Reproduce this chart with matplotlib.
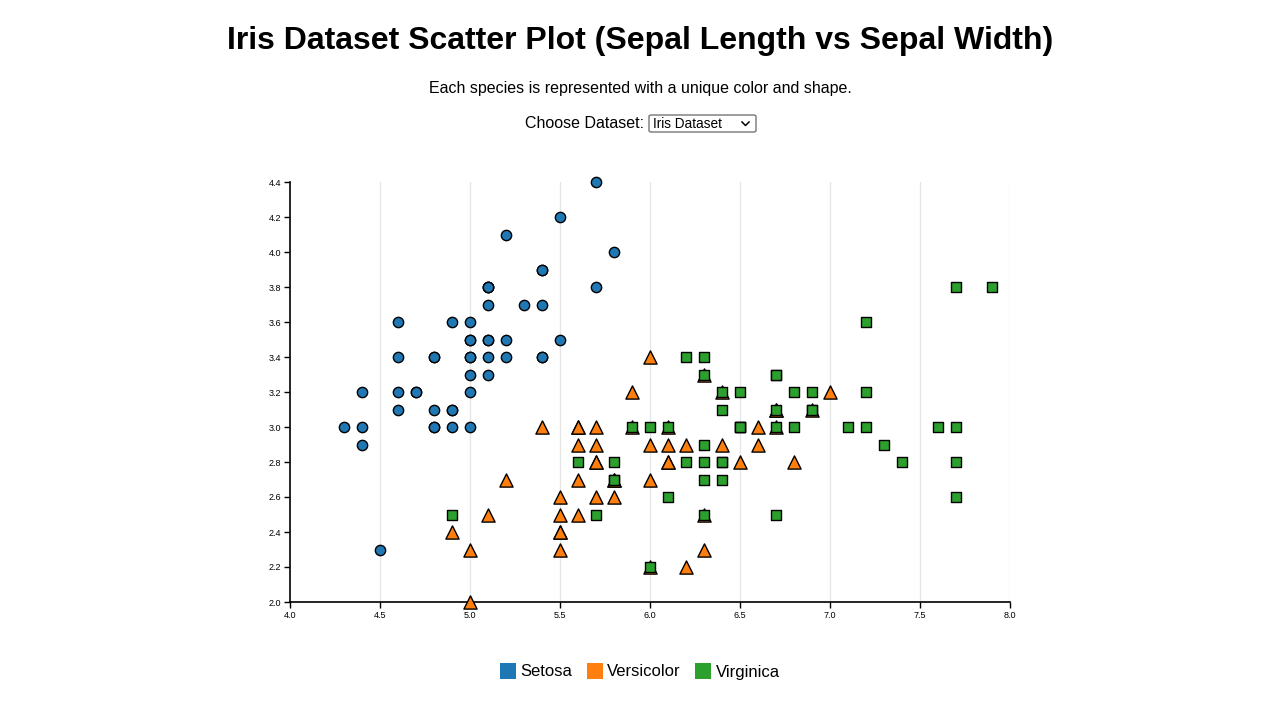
import matplotlib.pyplot as plt
from matplotlib.lines import Line2D
from matplotlib.patches import FancyBboxPatch

plt.rcParams['font.family'] = ['Liberation Sans', 'DejaVu Sans']

# sepal length / sepal width per species
setosa_x = [5.1, 4.9, 4.7, 4.6, 5.0, 5.4, 4.6, 5.0, 4.4, 4.9, 5.4, 4.8, 4.8, 4.3, 5.8, 5.7, 5.4, 5.1, 5.7, 5.1,
            5.4, 5.1, 4.6, 5.1, 4.8, 5.0, 5.0, 5.2, 5.2, 4.7, 4.8, 5.4, 5.2, 5.5, 4.9, 5.0, 5.5, 4.9, 4.4, 5.1,
            5.0, 4.5, 4.4, 5.0, 5.1, 4.8, 5.1, 4.6, 5.3, 5.0]
setosa_y = [3.5, 3.0, 3.2, 3.1, 3.6, 3.9, 3.4, 3.4, 2.9, 3.1, 3.7, 3.4, 3.0, 3.0, 4.0, 4.4, 3.9, 3.5, 3.8, 3.8,
            3.4, 3.7, 3.6, 3.3, 3.4, 3.0, 3.4, 3.5, 3.4, 3.2, 3.1, 3.4, 4.1, 4.2, 3.1, 3.2, 3.5, 3.6, 3.0, 3.4,
            3.5, 2.3, 3.2, 3.5, 3.8, 3.0, 3.8, 3.2, 3.7, 3.3]

versicolor_x = [7.0, 6.4, 6.9, 5.5, 6.5, 5.7, 6.3, 4.9, 6.6, 5.2, 5.0, 5.9, 6.0, 6.1, 5.6, 6.7, 5.6, 5.8, 6.2, 5.6,
                5.9, 6.1, 6.3, 6.1, 6.4, 6.6, 6.8, 6.7, 6.0, 5.7, 5.5, 5.5, 5.8, 6.0, 5.4, 6.0, 6.7, 6.3, 5.6, 5.5,
                5.5, 6.1, 5.8, 5.0, 5.6, 5.7, 5.7, 6.2, 5.1, 5.7]
versicolor_y = [3.2, 3.2, 3.1, 2.3, 2.8, 2.8, 3.3, 2.4, 2.9, 2.7, 2.0, 3.0, 2.2, 2.9, 2.9, 3.1, 3.0, 2.7, 2.2, 2.5,
                3.2, 2.8, 2.5, 2.8, 2.9, 3.0, 2.8, 3.0, 2.9, 2.6, 2.4, 2.4, 2.7, 2.7, 3.0, 3.4, 3.1, 2.3, 3.0, 2.5,
                2.6, 3.0, 2.6, 2.3, 2.7, 3.0, 2.9, 2.9, 2.5, 2.8]

virginica_x = [6.3, 5.8, 7.1, 6.3, 6.5, 7.6, 4.9, 7.3, 6.7, 7.2, 6.5, 6.4, 6.8, 5.7, 5.8, 6.4, 6.5, 7.7, 7.7, 6.0,
               6.9, 5.6, 7.7, 6.3, 6.7, 7.2, 6.2, 6.1, 6.4, 7.2, 7.4, 7.9, 6.4, 6.3, 6.1, 7.7, 6.3, 6.4, 6.0, 6.9,
               6.7, 6.9, 5.8, 6.8, 6.7, 6.7, 6.3, 6.5, 6.2, 5.9]
virginica_y = [3.3, 2.7, 3.0, 2.9, 3.0, 3.0, 2.5, 2.9, 2.5, 3.6, 3.2, 2.7, 3.0, 2.5, 2.8, 3.2, 3.0, 3.8, 2.6, 2.2,
               3.2, 2.8, 2.8, 2.7, 3.3, 3.2, 2.8, 3.0, 2.8, 3.0, 2.8, 3.8, 2.8, 2.8, 2.6, 3.0, 3.4, 3.1, 3.0, 3.1,
               3.1, 3.1, 2.7, 3.2, 3.3, 3.0, 2.5, 3.0, 3.4, 3.0]

species = ['Setosa', 'Versicolor', 'Virginica']
colors = ['#1f77b4', '#ff7f0e', '#2ca02c']
x_ticks = [4.0, 4.5, 5.0, 5.5, 6.0, 6.5, 7.0, 7.5, 8.0]
y_ticks = [2.0, 2.2, 2.4, 2.6, 2.8, 3.0, 3.2, 3.4, 3.6, 3.8, 4.0, 4.2, 4.4]

fig = plt.figure(figsize=(12.8, 7.16), dpi=100)
ax = fig.add_axes([290 / 1280, 1 - 602 / 716, 720 / 1280, 420 / 716])

ax.scatter(setosa_x, setosa_y, s=55, marker='o', c=colors[0], edgecolors='black', linewidths=1, zorder=3, clip_on=False)
ax.scatter(versicolor_x, versicolor_y, s=90, marker='^', c=colors[1], edgecolors='black', linewidths=1, zorder=3, clip_on=False)
ax.scatter(virginica_x, virginica_y, s=50, marker='s', c=colors[2], edgecolors='black', linewidths=1, zorder=3, clip_on=False)

ax.set_xlim(4.0, 8.0)
ax.set_ylim(2.0, 4.4)
ax.set_xticks(x_ticks)
ax.set_yticks(y_ticks)
ax.set_xticklabels(['%.1f' % v for v in x_ticks])
ax.set_yticklabels(['%.1f' % v for v in y_ticks])
ax.tick_params(labelsize=6.5, length=4.5, width=1, color='black', pad=2)
for v in x_ticks[1:]:
    ax.axvline(v, color='#e6e6e6', lw=1, zorder=1)
for side in ['top', 'right']:
    ax.spines[side].set_visible(False)
for side in ['left', 'bottom']:
    ax.spines[side].set_linewidth(1.2)
    ax.spines[side].set_zorder(2)

fig.text(0.5, 1 - 41 / 716, 'Iris Dataset Scatter Plot (Sepal Length vs Sepal Width)',
         ha='center', va='center', fontsize=23, fontweight='bold')
fig.text(0.5, 1 - 88 / 716, 'Each species is represented with a unique color and shape.',
         ha='center', va='center', fontsize=11.5)
fig.text(644 / 1280, 1 - 123 / 716, 'Choose Dataset:', ha='right', va='center', fontsize=11.5)

# dropdown box
box = FancyBboxPatch((649 / 1280, 1 - 132 / 716), 107 / 1280, 17 / 716,
                     boxstyle='round,pad=0,rounding_size=0.002', transform=fig.transFigure,
                     facecolor='white', edgecolor='#767676', lw=1)
fig.patches.append(box)
fig.text(653 / 1280, 1 - 124 / 716, 'Iris Dataset', ha='left', va='center', fontsize=9.8)
fig.add_artist(Line2D([742 / 1280, 745.5 / 1280, 749 / 1280], [1 - 122 / 716, 1 - 125.5 / 716, 1 - 122 / 716],
                      transform=fig.transFigure, color='black', lw=1.1))

handles = [Line2D([], [], marker='s', ls='', markersize=11, markerfacecolor=c, markeredgewidth=0)
               for c in colors]
fig.legend(handles, species, loc='center', bbox_to_anchor=(0.5, 1 - 672 / 716), ncol=3, frameon=False,
           fontsize=12, handlelength=0.9, handletextpad=0.3, columnspacing=0.9)

fig.savefig('out.png', dpi=100)
